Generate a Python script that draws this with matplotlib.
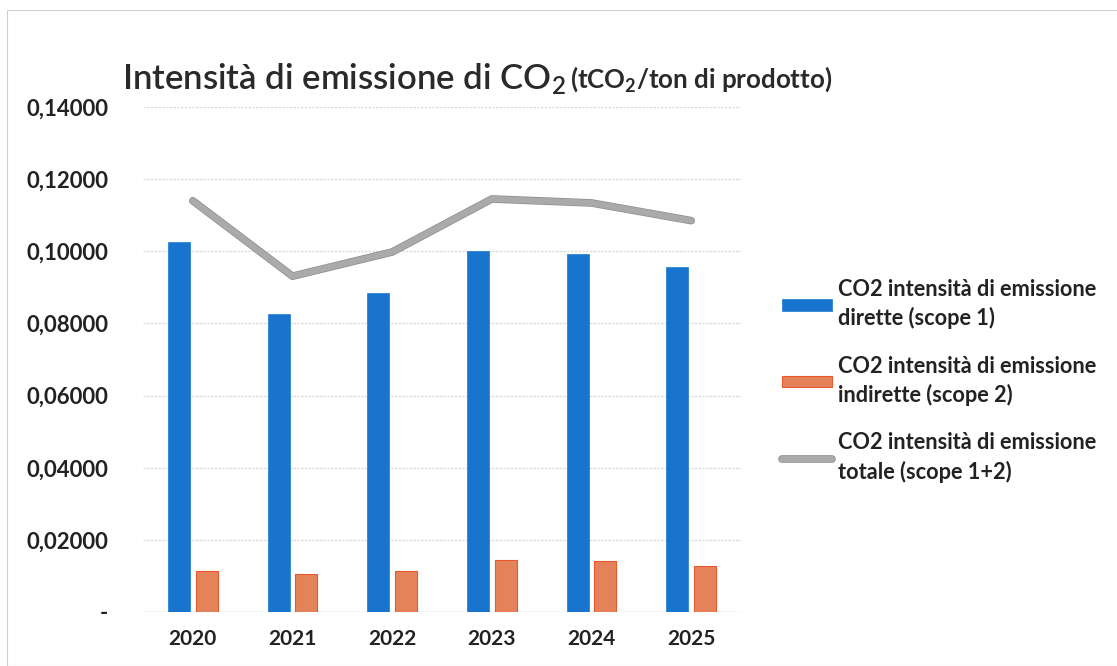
import matplotlib
matplotlib.use("Agg")
import matplotlib.pyplot as plt
import matplotlib.patheffects as pe
import numpy as np
from matplotlib.patches import Rectangle
from matplotlib.ticker import FixedLocator, FuncFormatter

years = ["2020", "2021", "2022", "2023", "2024", "2025"]
scope1 = [0.1026, 0.0826, 0.0884, 0.1001, 0.0993, 0.0957]
scope2 = [0.0114, 0.0105, 0.0114, 0.0144, 0.0141, 0.0128]
totale = [0.1140, 0.0931, 0.0998, 0.1145, 0.1134, 0.1085]
labels = ["CO2 intensità di emissione\ndirette (scope 1)",
          "CO2 intensità di emissione\nindirette (scope 2)",
          "CO2 intensità di emissione\ntotale (scope 1+2)"]

plt.rcParams['font.family'] = ['Lato', 'DejaVu Sans']
plt.rcParams['mathtext.fontset'] = 'custom'
plt.rcParams['mathtext.rm'] = 'Lato:semibold'
plt.rcParams['mathtext.it'] = 'Lato:italic'
plt.rcParams['mathtext.bf'] = 'Lato:bold'
plt.rcParams['mathtext.default'] = 'rm'

W, H = 1117, 666
fig = plt.figure(figsize=(W/100, H/100), dpi=100)
fig.patch.set_facecolor('white')

ax = fig.add_axes([143/W, 1-612/H, (741-143)/W, (612-107)/H])
x = np.arange(len(years))
bw = 0.22
b1 = ax.bar(x-0.14, scope1, bw, color='#1874cd', edgecolor='#1a7ad4', linewidth=0.5, zorder=2)
b2 = ax.bar(x+0.14, scope2, bw, color='#e4825a', edgecolor='#e8582a', linewidth=0.8, zorder=2)
ln, = ax.plot(x, totale, color='#a9aaa9', linewidth=4.5, solid_capstyle='round', zorder=3)
ln.set_path_effects([pe.Stroke(linewidth=5.5, foreground='#8c8c8c'), pe.Normal()])

ax.set_xlim(-0.5, len(years)-0.5)
ax.set_ylim(0, 0.14)
ax.yaxis.set_major_locator(FixedLocator(np.arange(0, 0.1401, 0.02)))
ax.yaxis.set_major_formatter(FuncFormatter(lambda v, p: '-' if abs(v) < 1e-9 else f"{v:.5f}".replace('.', ',')))
ax.set_xticks(x)
ax.set_xticklabels(years)
for lab in ax.get_xticklabels():
    lab.set_fontweight('bold')
    lab.set_fontsize(15)
    lab.set_color('#222222')
for lab in ax.get_yticklabels():
    lab.set_fontweight('bold')
    lab.set_fontsize(16)
    lab.set_color('#222222')
ax.tick_params(axis='both', length=0)
ax.tick_params(axis='y', pad=25)
ax.tick_params(axis='x', pad=12)
ax.grid(axis='y', color='#dadada', linewidth=0.9, linestyle=(0, (2, 1)), zorder=0)
for s in ax.spines.values():
    s.set_visible(False)
ax.axhline(0, color='#d0d0d0', linewidth=0.9, zorder=1)

# title
fig.text(122/W, 1-90/H, "Intensità di emissione di CO$_2$", fontsize=25, color='#2a2a2a',
         va='baseline', ha='left', fontweight='semibold')
fig.text(570/W, 1-88/H, r"(tCO$_\mathbf{2}$/ton di prodotto)", fontsize=18.6, color='#2a2a2a',
         va='baseline', ha='left', fontweight='bold')

# legend
leg = fig.legend([b1, b2, ln], labels, loc='upper left', bbox_to_anchor=(773/W, 1-270/H),
                 frameon=False, fontsize=15.7, handlelength=2.3, handleheight=0.45,
                 handletextpad=0.3, labelspacing=1.2, borderaxespad=0)
for t in leg.get_texts():
    t.set_fontweight('bold')
    t.set_color('#222222')
    t.set_linespacing(1.42)

# outer frame
fig.patches.append(Rectangle((7/W, 0), 1.2, 1-10/H, transform=fig.transFigure,
                             fill=False, edgecolor='#cfcfcf', linewidth=0.8))

fig.savefig('out.png', dpi=100, facecolor='white')
